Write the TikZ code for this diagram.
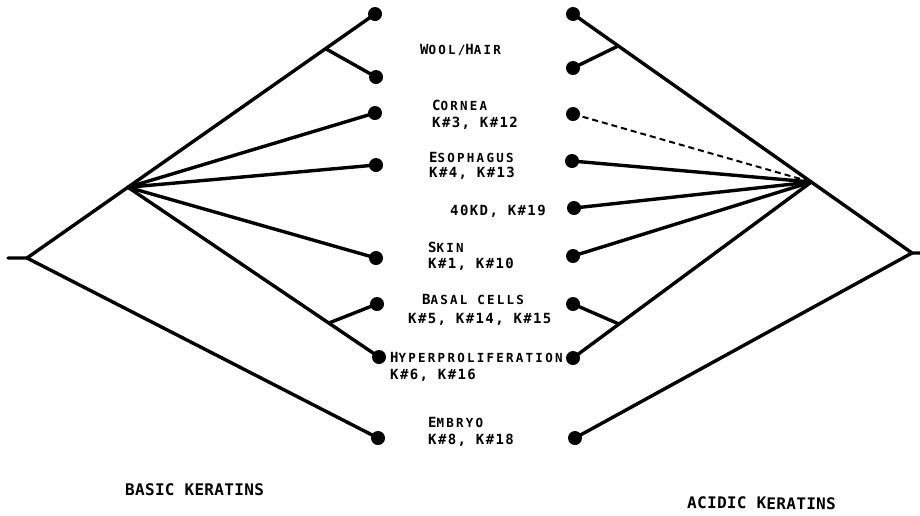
\documentclass[tikz,border=0pt]{standalone}
\usepackage{fontspec}
\usetikzlibrary{calc}
\newfontfamily\lblbig{DejaVu Sans Mono}[LetterSpace=10]
\newfontfamily\lblsml{DejaVu Sans Mono}[LetterSpace=18]
\newfontfamily\ttlfont{DejaVu Sans Mono}[LetterSpace=2]
\newcommand\BigL[1]{{\lblbig\bfseries\fontsize{14}{17}\selectfont #1}}
\newcommand\SmlL[1]{{\lblsml\bfseries\fontsize{12.5}{17}\selectfont #1}}
\begin{document}
\begin{tikzpicture}[x=1pt,y=-1pt,
  dot/.style={circle,fill=black,inner sep=0pt,minimum size=14pt},
  edge/.style={line width=3.4pt,line cap=round,line join=round},
  dashedge/.style={line width=2pt,dashed,dash pattern=on 6pt off 4pt},
  lbl/.style={anchor=base west,inner sep=0pt,font=\lblbig\bfseries\fontsize{14}{17}\selectfont},
  ttl/.style={anchor=base west,inner sep=0pt,font=\ttlfont\bfseries\fontsize{16}{18}\selectfont}]
\useasboundingbox (0,0) rectangle (920,515);
\fill[white] (0,0) rectangle (920,515);
% ---- left tree (basic keratins)
\coordinate (lstub) at (8,258);
\coordinate (lroot) at (27,258);
\coordinate (ltop) at (375,14);
\coordinate (lhub) at ($(lroot)!0.29!(ltop)$);
\coordinate (lwool) at ($(lhub)!0.8!(ltop)$);
\coordinate (lhyp) at (379,357);
\coordinate (lbasb) at ($(lhub)!0.8!(lhyp)$);
\node[dot] (lA) at (ltop) {};
\node[dot] (lB) at (376,77) {};
\node[dot] (lC) at (375,113) {};
\node[dot] (lD) at (376,165) {};
\node[dot] (lF) at (376,258) {};
\node[dot] (lG) at (377,304) {};
\node[dot] (lH) at (lhyp) {};
\node[dot] (lI) at (378,438) {};
\draw[edge] (lstub) -- (lroot) -- (lA.center);
\draw[edge] (lwool) -- (lB.center);
\draw[edge] (lhub) -- (lC.center);
\draw[edge] (lhub) -- (lD.center);
\draw[edge] (lhub) -- (lF.center);
\draw[edge] (lhub) -- (lH.center);
\draw[edge] (lbasb) -- (lG.center);
\draw[edge] (lroot) -- (lI.center);
% ---- right tree (acidic keratins)
\coordinate (rstub) at (920,253);
\coordinate (rroot) at (912,253);
\coordinate (rtop) at (573,14);
\coordinate (rhub) at ($(rtop)!0.703!(rroot)$);
\coordinate (rwool) at ($(rtop)!0.19!(rhub)$);
\coordinate (rhyp) at (573,358);
\coordinate (rbasb) at ($(rhub)!0.807!(rhyp)$);
\node[dot] (rA) at (rtop) {};
\node[dot] (rB) at (573,68) {};
\node[dot] (rC) at (573,114) {};
\node[dot] (rD) at (572,161) {};
\node[dot] (rE) at (574,208) {};
\node[dot] (rF) at (573,256) {};
\node[dot] (rG) at (573,304) {};
\node[dot] (rH) at (rhyp) {};
\node[dot] (rI) at (575,438) {};
\draw[edge] (rstub) -- (rroot) -- (rA.center);
\draw[edge] (rwool) -- (rB.center);
\draw[dashedge] (rC.center) -- (rhub);
\draw[edge] (rhub) -- (rD.center);
\draw[edge] (rhub) -- (rE.center);
\draw[edge] (rhub) -- (rF.center);
\draw[edge] (rhub) -- (rH.center);
\draw[edge] (rbasb) -- (rG.center);
\draw[edge] (rroot) -- (rI.center);
% ---- labels
\node[lbl] (t1) at (420,54) {\BigL{W}\SmlL{OOL/}\BigL{H}\SmlL{AIR}};
\node[lbl] (t2a) at (432,110) {\BigL{C}\SmlL{ORNEA}};
\node[lbl] (t2b) at (432,127) {K\#3, K\#12};
\node[lbl] (t3a) at (429,162) {\BigL{E}\SmlL{SOPHAGUS}};
\node[lbl] (t3b) at (429,177) {K\#4, K\#13};
\node[lbl] (t4) at (450,215) {40KD, K\#19};
\node[lbl] (t5a) at (428,252) {\BigL{S}\SmlL{KIN}};
\node[lbl] (t5b) at (428,268) {K\#1, K\#10};
\node[lbl] (t6a) at (422,304) {\BigL{B}\SmlL{ASAL CELLS}};
\node[lbl] (t6b) at (408,323) {K\#5, K\#14, K\#15};
\node[lbl] (t7a) at (390,362) {\BigL{H}\SmlL{YPERPROLIFERATION}};
\node[lbl] (t7b) at (390,379) {K\#6, K\#16};
\node[lbl] (t8a) at (428,427) {\BigL{E}\SmlL{MBRYO}};
\node[lbl] (t8b) at (428,444) {K\#8, K\#18};
\node[ttl] (basic) at (125,495) {BASIC KERATINS};
\node[ttl,rotate=-0.8] (acidic) at (687,508) {ACIDIC KERATINS};
\end{tikzpicture}
\end{document}
